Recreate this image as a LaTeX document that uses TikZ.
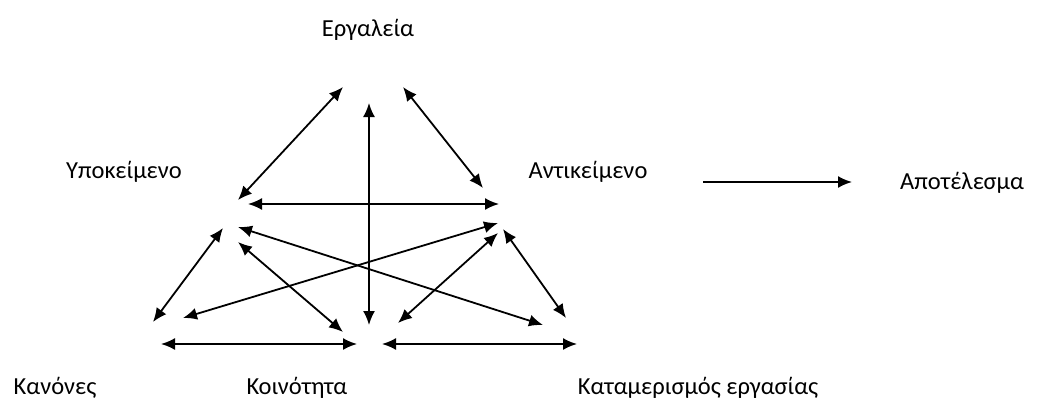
\documentclass[tikz,border=0pt]{standalone}
\usepackage{fontspec}
\setmainfont{Carlito}
\usetikzlibrary{arrows.meta}
\begin{document}
\begin{tikzpicture}[x=1pt,y=-1pt,
  lbl/.style={font=\fontsize{24.5}{28}\selectfont, inner sep=0pt, anchor=center},
  tip/.style={},
  dbl/.style={{Latex[length=14pt,width=12pt]}-{Latex[length=14pt,width=12pt]}, line width=1.8pt},
  sgl/.style={-{Latex[length=14pt,width=12pt]}, line width=1.8pt}]
\useasboundingbox (0,0) rectangle (1041,410);
% labels
\node[lbl] (tools) at (368,30) {Εργαλεία};
\node[lbl] (subj) at (124,172) {Υποκείμενο};
\node[lbl] (obj) at (588,172) {Αντικείμενο};
\node[lbl] (out) at (962,183) {Αποτέλεσμα};
\node[lbl] (rules) at (55,388) {Κανόνες};
\node[lbl] (comm) at (297,388) {Κοινότητα};
\node[lbl] (div) at (698,388) {Καταμερισμός εργασίας};
% arrow end points
\coordinate (a1) at (343,87);  \coordinate (a2) at (238,200);
\coordinate (b1) at (403,87);  \coordinate (b2) at (483,188);
\coordinate (v1) at (369,325); \coordinate (v2) at (369,103);
\coordinate (h1) at (248,204); \coordinate (h2) at (499,204);
\coordinate (c1) at (223,228); \coordinate (c2) at (153,322);
\coordinate (d1) at (238,227); \coordinate (d2) at (543,325);
\coordinate (e1) at (238,242); \coordinate (e2) at (343,332);
\coordinate (f1) at (498,223); \coordinate (f2) at (183,318);
\coordinate (g1) at (498,233); \coordinate (g2) at (398,323);
\coordinate (k1) at (503,229); \coordinate (k2) at (566,318);
\coordinate (l1) at (161,344); \coordinate (l2) at (357,344);
\coordinate (m1) at (382,344); \coordinate (m2) at (577,344);
\coordinate (r1) at (703,182); \coordinate (r2) at (852,182);
% connectors
\draw[dbl] (a1) -- (a2);
\draw[dbl] (b1) -- (b2);
\draw[dbl] (v1) -- (v2);
\draw[dbl] (h1) -- (h2);
\draw[dbl] (c1) -- (c2);
\draw[dbl] (d1) -- (d2);
\draw[dbl] (e1) -- (e2);
\draw[dbl] (f1) -- (f2);
\draw[dbl] (g1) -- (g2);
\draw[dbl] (k1) -- (k2);
\draw[dbl] (l1) -- (l2);
\draw[dbl] (m1) -- (m2);
\draw[sgl] (r1) -- (r2);
\end{tikzpicture}
\end{document}
